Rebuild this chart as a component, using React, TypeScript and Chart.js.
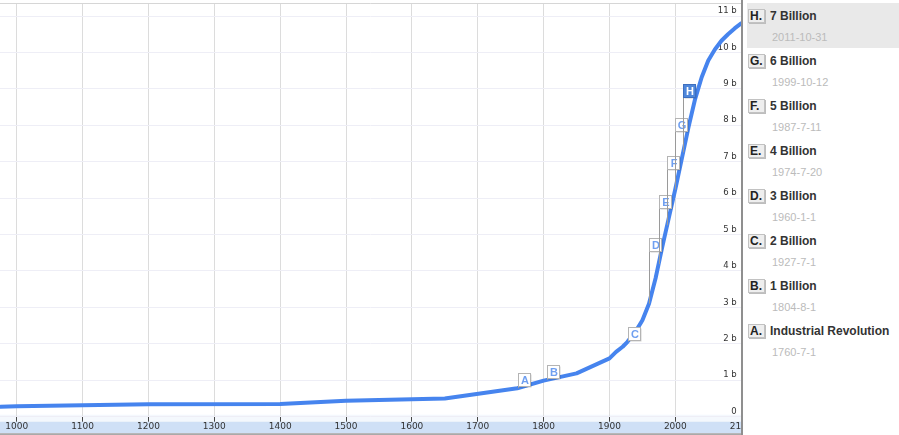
import { useEffect, useRef } from 'react';
import { Chart, registerables } from 'chart.js';

Chart.register(...registerables);

// ---- data ----
const years = [975, 1000, 1200, 1400, 1500, 1650, 1760, 1800, 1850, 1900, 1910, 1920, 1927, 1940, 1950, 1960, 1970, 1980, 1990, 2000, 2010, 2020, 2030, 2040, 2050, 2060, 2070, 2080, 2090, 2100];
const population = [0.27, 0.29, 0.34, 0.35, 0.44, 0.5, 0.78, 0.99, 1.19, 1.6, 1.78, 1.92, 2.05, 2.35, 2.65, 3.1, 3.8, 4.65, 5.45, 6.25, 7.1, 7.95, 8.72, 9.32, 9.78, 10.08, 10.32, 10.5, 10.66, 10.8];

const xTickStart = 1000;
const xTickStep = 100;
const yTickStep = 1;

const flagLetters = ['A', 'B', 'C', 'D', 'E', 'F', 'G', 'H'];
const flagTitles = ['Industrial Revolution', '1 Billion', '2 Billion', '3 Billion', '4 Billion', '5 Billion', '6 Billion', '7 Billion'];
const flagDates = ['1760-7-1', '1804-8-1', '1927-7-1', '1960-1-1', '1974-7-20', '1987-7-11', '1999-10-12', '2011-10-31'];
const selectedFlag = 'H';

const X_MIN = 974.6;
const X_MAX = 2100;
const Y_MAX = 11.33;

function dateToYear(s: string): number {
  const [y, m, d] = s.split('-').map(Number);
  return y + (m - 1) / 12 + (d - 1) / 365;
}

function valueAt(yr: number): number {
  if (yr <= years[0]) return population[0];
  for (let i = 1; i < years.length; i++) {
    if (yr <= years[i]) {
      const t = (yr - years[i - 1]) / (years[i] - years[i - 1]);
      return population[i - 1] + t * (population[i] - population[i - 1]);
    }
  }
  return population[population.length - 1];
}

const decorPlugin = {
  id: 'decor',
  beforeDraw(chart: any) {
    const { ctx, chartArea: a } = chart;
    ctx.save();
    ctx.fillStyle = '#f4f8fd';
    ctx.fillRect(a.left, a.bottom - 2, a.right - a.left, 7);
    ctx.fillStyle = '#cfe0f6';
    ctx.fillRect(a.left, a.bottom + 5, a.right - a.left, 11.5);
    ctx.fillStyle = '#a9a9a9';
    ctx.fillRect(a.left, a.bottom + 16.5, a.right - a.left, 2);
    ctx.strokeStyle = '#d6d6d6';
    ctx.lineWidth = 1;
    ctx.beginPath();
    ctx.moveTo(a.left, a.top - 0.5);
    ctx.lineTo(a.right, a.top - 0.5);
    ctx.stroke();
    ctx.restore();
  },
  afterDatasetsDraw(chart: any) {
    const { ctx, scales: { x, y } } = chart;
    const w = 12;
    const h = 13;
    const poles = flagDates.map((d) => x.getPixelForValue(dateToYear(d)));
    ctx.save();
    flagLetters.forEach((letter, i) => {
      const px = poles[i];
      const lineY = y.getPixelForValue(valueAt(dateToYear(flagDates[i])));
      const crowded =
        (i + 1 < poles.length && poles[i + 1] < px + w + 2) ||
        (i > 0 && px < poles[i - 1] + w + 2);
      let bottom: number;
      if (crowded) {
        const rightYear = x.getValueForPixel(px + w);
        bottom = y.getPixelForValue(valueAt(rightYear)) - 2;
      } else {
        bottom = lineY - 2;
      }
      const top = Math.round(bottom - h);
      const sx = Math.round(px) + 0.5;
      // pole
      ctx.strokeStyle = '#9a9a9a';
      ctx.lineWidth = 1;
      ctx.beginPath();
      ctx.moveTo(sx, lineY);
      ctx.lineTo(sx, top + h);
      ctx.stroke();
      // shadow
      ctx.fillStyle = 'rgba(0,0,0,0.18)';
      ctx.fillRect(sx + 1, top + 1.5, w, h);
      const sel = letter === selectedFlag;
      ctx.fillStyle = sel ? '#4f87da' : '#ffffff';
      ctx.fillRect(sx, top + 0.5, w, h);
      ctx.strokeStyle = sel ? '#3d6fbf' : '#b4b4b4';
      ctx.strokeRect(sx, top + 0.5, w, h);
      ctx.fillStyle = sel ? '#ffffff' : '#6f9ff0';
      ctx.font = 'bold 11px "Liberation Sans", Arial, sans-serif';
      ctx.textAlign = 'center';
      ctx.textBaseline = 'middle';
      ctx.fillText(letter, sx + w / 2 + 0.5, top + h / 2 + 1.5);
    });
    ctx.restore();
  },
};

export default function App() {
  const ref = useRef<HTMLCanvasElement | null>(null);

  useEffect(() => {
    if (!ref.current) return;
    const chart = new Chart(ref.current, {
      type: 'line',
      data: {
        datasets: [
          {
            data: years.map((yr, i) => ({ x: yr, y: population[i] })),
            borderColor: '#4684ee',
            borderWidth: 4,
            pointRadius: 0,
            tension: 0,
            borderJoinStyle: 'round',
            borderCapStyle: 'round',
            fill: false,
          },
        ],
      },
      options: {
        animation: false,
        responsive: false,
        maintainAspectRatio: false,
        layout: { padding: { top: 4, left: 0, right: 899 - 741.2, bottom: 0 }, autoPadding: false },
        plugins: { legend: { display: false }, tooltip: { enabled: false } },
        scales: {
          x: {
            type: 'linear',
            min: X_MIN,
            max: X_MAX,
            afterFit: (s: any) => {
              s.height = 435 - 416.7;
            },
            border: { display: false },
            grid: { color: '#dcdcdc', tickColor: '#444', tickLength: 5, drawTicks: true },
            ticks: {
              stepSize: xTickStep,
              includeBounds: false,
              autoSkip: false,
              maxRotation: 0,
              minRotation: 0,
              maxTicksLimit: 30,
              padding: 0,
              color: '#333',
              font: { family: '"DejaVu Sans", Verdana, sans-serif', size: 9 },
              callback: (v: any) => (v >= xTickStart ? String(v) : ''),
            },
          },
          y: {
            position: 'right',
            min: 0,
            max: Y_MAX,
            afterFit: (s: any) => {
              s.width = 0;
            },
            border: { display: false },
            grid: { color: '#eeeef6', drawTicks: false },
            ticks: {
              stepSize: yTickStep,
              includeBounds: false,
              maxTicksLimit: 30,
              mirror: true,
              padding: -4.5,
              labelOffset: -5,
              color: '#333',
              font: { family: '"DejaVu Sans", Verdana, sans-serif', size: 8.5 },
              callback: (v: any) => (v === 0 ? '0' : v + ' b'),
            },
          },
        },
      },
      plugins: [decorPlugin],
    } as any);
    return () => chart.destroy();
  }, []);

  const order = [...flagLetters.keys()].reverse();

  return (
    <div style={{ position: 'fixed', left: 0, top: 0, width: 899, height: 435, background: '#fff', overflow: 'hidden' }}>
      <canvas ref={ref} width={899} height={435} style={{ position: 'absolute', left: 0, top: 0, width: 899, height: 435 }} />
      <div
        style={{
          position: 'absolute',
          left: 741,
          top: 0,
          width: 158,
          height: 435,
          background: '#fff',
          borderLeft: '2px solid #8f8f8f',
          boxSizing: 'border-box',
          fontFamily: '"Liberation Sans", Arial, sans-serif',
        }}
      >
        {order.map((idx, i) => {
          const c = 15.5 + 45 * i;
          const sel = flagLetters[idx] === selectedFlag;
          return (
            <div key={idx}>
              {sel && (
                <div style={{ position: 'absolute', left: 4, top: c - 12.5, width: 154, height: 45, background: '#e9e9e9' }} />
              )}
              <div
                style={{
                  position: 'absolute',
                  left: 5,
                  top: c - 7,
                  width: 14,
                  height: 12,
                  background: '#eeeeee',
                  border: '1px solid #c2c2c2',
                  boxShadow: '1px 1px 0 #bdbdbd',
                  fontWeight: 'bold',
                  fontSize: 12,
                  lineHeight: '13px',
                  color: '#222',
                  paddingLeft: 1,
                  boxSizing: 'content-box',
                  whiteSpace: 'nowrap',
                }}
              >
                {flagLetters[idx]}.
              </div>
              <div
                style={{
                  position: 'absolute',
                  left: 27,
                  top: c - 8,
                  height: 16,
                  lineHeight: '16px',
                  fontWeight: 'bold',
                  fontSize: 12,
                  color: '#333',
                  whiteSpace: 'nowrap',
                }}
              >
                {flagTitles[idx]}
              </div>
              <div
                style={{
                  position: 'absolute',
                  left: 29,
                  top: c + 21.5 - 7,
                  height: 14,
                  lineHeight: '14px',
                  fontSize: 11,
                  color: '#bbbbbb',
                  whiteSpace: 'nowrap',
                }}
              >
                {flagDates[idx]}
              </div>
            </div>
          );
        })}
      </div>
    </div>
  );
}
